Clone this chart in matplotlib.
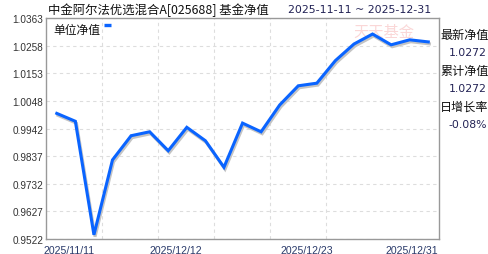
import matplotlib.pyplot as plt
import matplotlib.patheffects as pe
import numpy as np

# Data
nav = [1.0000, 0.9970, 0.9538, 0.9823, 0.9915, 0.9930, 0.9858, 0.9947, 0.9896, 0.9795,
       0.9963, 0.9930, 1.0032, 1.0105, 1.0115, 1.0201, 1.0264, 1.0302, 1.0261, 1.0280, 1.0272]
ytick_vals = [0.9522, 0.9627, 0.9732, 0.9837, 0.9942, 1.0048, 1.0153, 1.0258, 1.0363]
ytick_labels = ['0.9522', '0.9627', '0.9732', '0.9837', '0.9942', '1.0048', '1.0153', '1.0258', '1.0363']
date_labels = ['2025/11/11', '2025/12/12', '2025/12/23', '2025/12/31']
title = '中金阿尔法优选混合A[025688] 基金净值'
date_range = '2025-11-11 ~ 2025-12-31'
latest_nav = '1.0272'
total_nav = '1.0272'
daily_change = '-0.08%'

FONTS = ['Liberation Sans', 'Noto Sans CJK SC']
CJK = ['Noto Sans CJK SC', 'DejaVu Sans']
NUM = ['DejaVu Sans', 'Noto Sans CJK SC']
plt.rcParams['font.family'] = FONTS

fig = plt.figure(figsize=(4.88, 2.55), dpi=100)
ax = fig.add_axes([46 / 488, 1 - 240 / 255, 392.5 / 488, 221 / 255])

x = np.arange(len(nav))
ax.plot(x, nav, color='#0a64ff', lw=2.2, solid_joinstyle='miter',
        path_effects=[pe.SimpleLineShadow(offset=(0.8, -1.4), shadow_color='#c4c4c4', alpha=1),
                      pe.Normal()])

ax.set_xlim(-0.58, 20.55)
ax.set_ylim(ytick_vals[0], ytick_vals[-1])
ax.set_yticks(ytick_vals)
ax.set_yticklabels(ytick_labels)
ax.set_xticks([])
ax.tick_params(axis='y', length=0, pad=2, labelsize=7.2, labelcolor='#333333')
ax.grid(axis='y', color='#dddddd', linestyle=(0, (3, 3)), lw=0.8)
for k in range(1, 6):
    ax.plot([k / 7, k / 7], [0, 1], transform=ax.transAxes, color='#dddddd',
            linestyle=(0, (3, 3)), lw=0.8, zorder=0)
for s in ax.spines.values():
    s.set_color('#999999')
    s.set_linewidth(1)

# x labels
xl_pos = [(44 - 46) / 392.5, (176 - 46) / 392.5, (307 - 46) / 392.5, 1.0]
xl_ha = ['left', 'center', 'center', 'right']
for p, lab, ha in zip(xl_pos, date_labels, xl_ha):
    ax.text(p, -0.025, lab, transform=ax.transAxes, ha=ha, va='top',
            fontsize=7.6, color='#2a3a6a')

# legend-like label
ax.text(7 / 392.5, 0.95, '单位净值', transform=ax.transAxes, ha='left', va='center',
        fontsize=8.5, family=CJK, color='#111111')
ax.plot([58 / 392.5, 65 / 392.5], [0.968, 0.968], transform=ax.transAxes,
        color='#0a64ff', lw=2.4, solid_capstyle='butt')

# watermark
ax.text(0.86, 0.94, '天天基金', transform=ax.transAxes, ha='center', va='center',
        fontsize=11, family=CJK, color='#f9c6c6', alpha=0.7, zorder=0, style='italic')

# title
fig.text(48 / 488, 1 - 10 / 255, title, ha='left', va='center', fontsize=8.9,
         family=CJK, color='#111111')
fig.text(288 / 488, 1 - 10 / 255, date_range, ha='left', va='center', fontsize=7.9,
         family=NUM, color='#222255')

# right panel
rx = 487 / 488
fig.text(440 / 488, 1 - 35 / 255, '最新净值', ha='left', va='center', fontsize=8.7, family=CJK, color='#111111')
fig.text(rx, 1 - 53 / 255, latest_nav, ha='right', va='center', fontsize=7.8, family=NUM, color='#222255')
fig.text(440 / 488, 1 - 71 / 255, '累计净值', ha='left', va='center', fontsize=8.7, family=CJK, color='#111111')
fig.text(rx, 1 - 89 / 255, total_nav, ha='right', va='center', fontsize=7.8, family=NUM, color='#222255')
fig.text(440 / 488, 1 - 107 / 255, '日增长率', ha='left', va='center', fontsize=8.7, family=CJK, color='#111111')
fig.text(rx, 1 - 125 / 255, daily_change, ha='right', va='center', fontsize=7.8, family=NUM, color='#222255')

fig.savefig('out.png', dpi=100)
